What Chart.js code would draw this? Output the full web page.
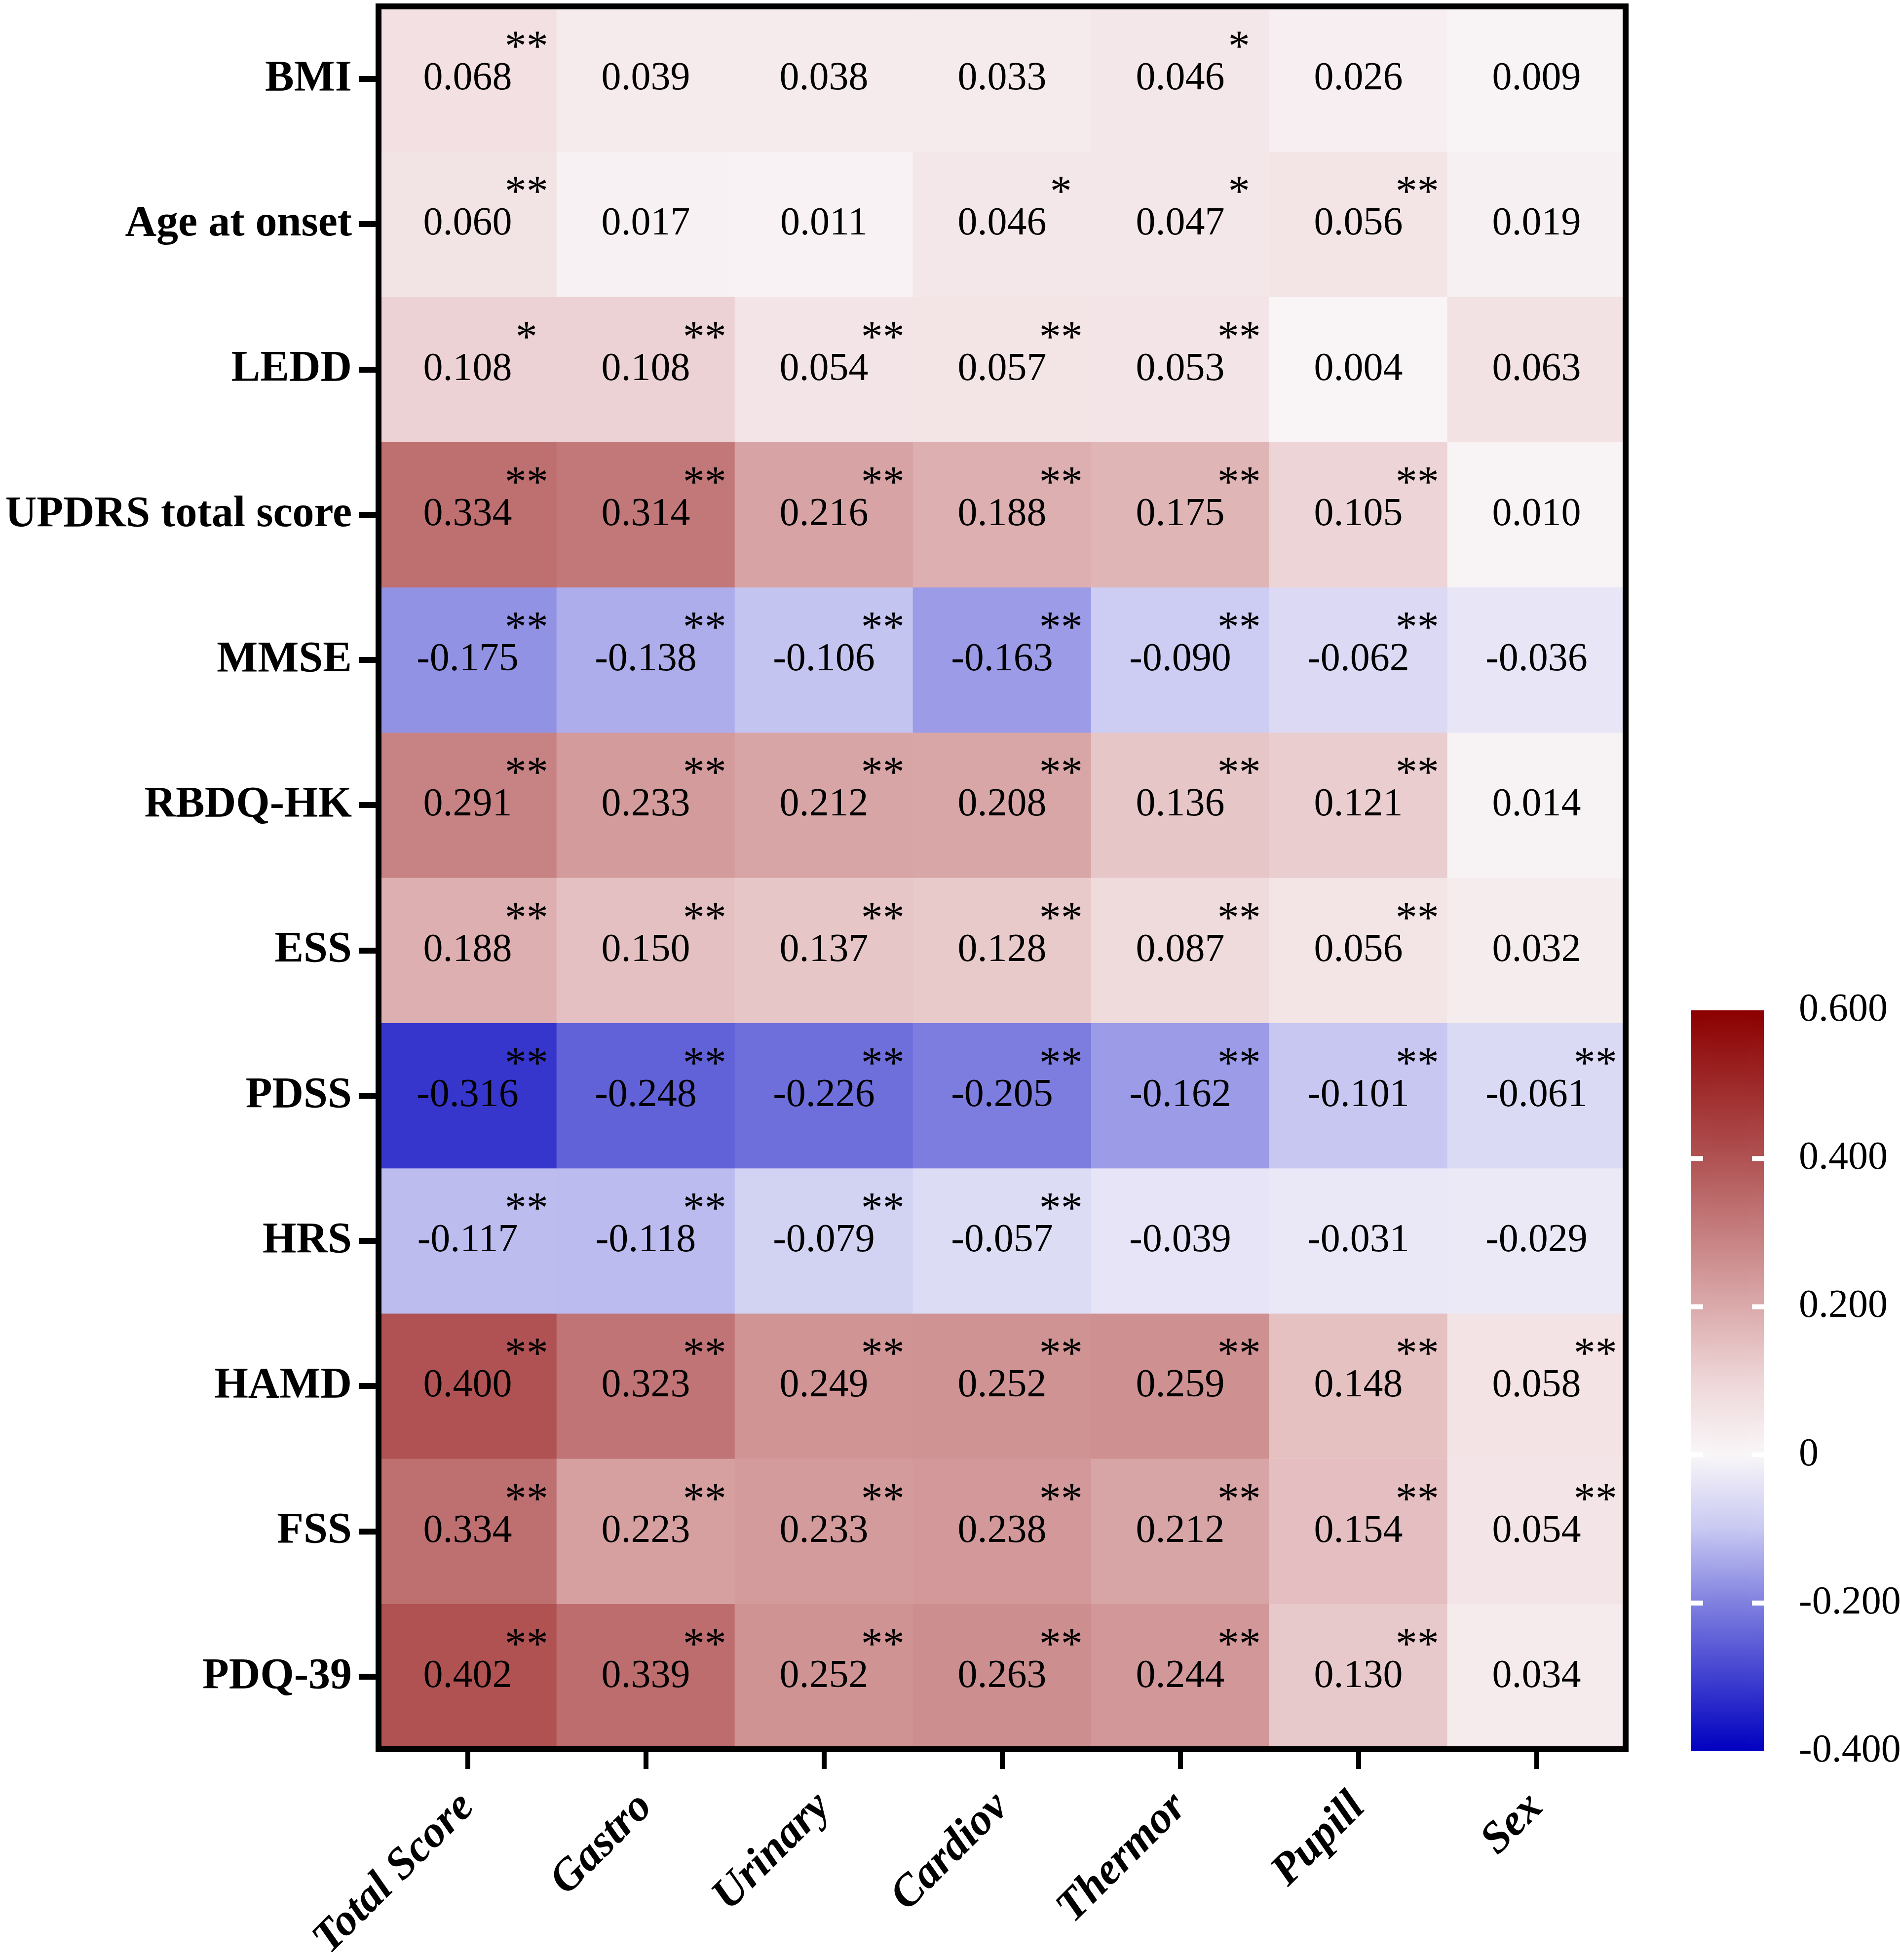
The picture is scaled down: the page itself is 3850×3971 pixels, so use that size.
<!DOCTYPE html>
<html>
<head>
<meta charset="utf-8">
<title>Correlation heatmap</title>
<script src="https://cdn.jsdelivr.net/npm/chart.js@4.4.1/dist/chart.umd.min.js"></script>
<style>
  html, body { margin: 0; padding: 0; background: #fff; }
  #wrap { position: relative; width: 3850px; height: 3971px; }
  #heat { position: absolute; left: 0; top: 0; }
  #bar { position: absolute; left: 3300px; top: 1900px; }
</style>
</head>
<body>
<div id="wrap">
  <canvas id="heat" width="3850" height="3971"></canvas>
  <canvas id="bar" width="550" height="1800"></canvas>
</div>
<script>
// rows (top to bottom) and columns
const rows = ['BMI', 'Age at onset', 'LEDD', 'UPDRS total score', 'MMSE', 'RBDQ-HK',
  'ESS', 'PDSS', 'HRS', 'HAMD', 'FSS', 'PDQ-39'];
const columns = ['Total Score', 'Gastro', 'Urinary', 'Cardiov', 'Thermor', 'Pupill', 'Sex'];

// correlation coefficients, one array per row
const bmi = [0.068, 0.039, 0.038, 0.033, 0.046, 0.026, 0.009];
const ageAtOnset = [0.060, 0.017, 0.011, 0.046, 0.047, 0.056, 0.019];
const ledd = [0.108, 0.108, 0.054, 0.057, 0.053, 0.004, 0.063];
const updrs = [0.334, 0.314, 0.216, 0.188, 0.175, 0.105, 0.010];
const mmse = [-0.175, -0.138, -0.106, -0.163, -0.090, -0.062, -0.036];
const rbdq = [0.291, 0.233, 0.212, 0.208, 0.136, 0.121, 0.014];
const ess = [0.188, 0.150, 0.137, 0.128, 0.087, 0.056, 0.032];
const pdss = [-0.316, -0.248, -0.226, -0.205, -0.162, -0.101, -0.061];
const hrs = [-0.117, -0.118, -0.079, -0.057, -0.039, -0.031, -0.029];
const hamd = [0.400, 0.323, 0.249, 0.252, 0.259, 0.148, 0.058];
const fss = [0.334, 0.223, 0.233, 0.238, 0.212, 0.154, 0.054];
const pdq39 = [0.402, 0.339, 0.252, 0.263, 0.244, 0.130, 0.034];
const values = [bmi, ageAtOnset, ledd, updrs, mmse, rbdq, ess, pdss, hrs, hamd, fss, pdq39];

// significance marks
const stars = [
  ['**', '', '', '', '*', '', ''],
  ['**', '', '', '*', '*', '**', ''],
  ['*', '**', '**', '**', '**', '', ''],
  ['**', '**', '**', '**', '**', '**', ''],
  ['**', '**', '**', '**', '**', '**', ''],
  ['**', '**', '**', '**', '**', '**', ''],
  ['**', '**', '**', '**', '**', '**', ''],
  ['**', '**', '**', '**', '**', '**', '**'],
  ['**', '**', '**', '**', '', '', ''],
  ['**', '**', '**', '**', '**', '**', '**'],
  ['**', '**', '**', '**', '**', '**', '**'],
  ['**', '**', '**', '**', '**', '**', '']
];

// colour bar
const colorTicks = [-0.4, -0.2, 0, 0.2, 0.4, 0.6];
const stopValues = [-0.4, -0.2, -0.1, 0, 0.1, 0.2, 0.4, 0.6];
const stopColors = [[0, 0, 192], [128, 128, 224], [200, 200, 242], [249, 246, 248],
  [238, 214, 216], [219, 170, 171], [176, 82, 83], [140, 0, 0]];

const FONT = "'Liberation Serif', 'Times New Roman', serif";
Chart.defaults.color = '#000';
Chart.defaults.font.family = FONT;

function colorFor(v) {
  if (v <= stopValues[0]) return rgb(stopColors[0]);
  for (let i = 1; i < stopValues.length; i++) {
    if (v <= stopValues[i]) {
      const t = (v - stopValues[i - 1]) / (stopValues[i] - stopValues[i - 1]);
      const a = stopColors[i - 1], b = stopColors[i];
      return rgb(a.map((x, k) => x + (b[k] - x) * t));
    }
  }
  return rgb(stopColors[stopColors.length - 1]);
}

function rgb(c) {
  return `rgb(${Math.round(c[0])}, ${Math.round(c[1])}, ${Math.round(c[2])})`;
}

// numbers and stars in the cells
const cellText = {
  id: 'cellText',
  afterDatasetsDraw(chart) {
    const { ctx, scales: { x, y } } = chart;
    const cw = x.getPixelForValue(1) - x.getPixelForValue(0);
    const ch = Math.abs(y.getPixelForValue(1) - y.getPixelForValue(0));
    ctx.save();
    ctx.fillStyle = '#000';
    ctx.textAlign = 'center';
    values.forEach((row, r) => {
      row.forEach((v, c) => {
        const cx = x.getPixelForValue(c);
        const cy = y.getPixelForValue(r + 0.5);
        ctx.font = `80px ${FONT}`;
        ctx.textBaseline = 'middle';
        ctx.fillText(v.toFixed(3), cx, cy);
        if (stars[r][c]) {
          ctx.font = `88px ${FONT}`;
          ctx.textBaseline = 'alphabetic';
          ctx.fillText(stars[r][c], cx + cw * 0.33, cy - ch * 0.275 + 43);
        }
      });
    });
    ctx.restore();
  }
};

// black frame round the plot
const frame = {
  id: 'frame',
  afterDatasetsDraw(chart) {
    const { ctx, chartArea: a } = chart;
    ctx.save();
    ctx.strokeStyle = '#000';
    ctx.lineWidth = 12;
    ctx.strokeRect(a.left, a.top, a.right - a.left, a.bottom - a.top);
    ctx.restore();
  }
};

new Chart(document.getElementById('heat'), {
  type: 'bar',
  data: {
    labels: columns,
    datasets: rows.map((name, r) => ({
      label: name,
      data: columns.map(() => 1),
      backgroundColor: values[r].map(colorFor),
      borderWidth: 0,
      barPercentage: 1,
      categoryPercentage: 1
    }))
  },
  options: {
    responsive: false,
    animation: false,
    devicePixelRatio: 1,
    layout: { padding: { top: 13, right: 556, left: 0, bottom: 0 } },
    plugins: { legend: { display: false }, tooltip: { enabled: false } },
    scales: {
      x: {
        stacked: true,
        border: { display: false },
        grid: { display: true, drawOnChartArea: false, offset: false, tickLength: 40, lineWidth: 10, color: '#000' },
        ticks: {
          autoSkip: false, maxRotation: 45, minRotation: 45, padding: 26,
          font: { size: 90, weight: 'bold', style: 'italic' }
        },
        afterFit: s => {
          s.height = 3971 - 3544;
          s.paddingLeft = 0;
          s.paddingRight = 0;
        }
      },
      y: {
        stacked: true,
        reverse: true,
        min: 0,
        max: rows.length,
        border: { display: false },
        grid: { display: true, drawOnChartArea: false, tickLength: 40, lineWidth: 12, color: '#000' },
        afterBuildTicks: s => { s.ticks = rows.map((_, i) => ({ value: i + 0.5 })); },
        ticks: {
          padding: 14,
          font: { size: 88, weight: 'bold' },
          callback: (v, i) => rows[i]
        },
        afterFit: s => {
          s.width = 767;
          s.paddingTop = 0;
          s.paddingBottom = 0;
        }
      }
    }
  },
  plugins: [cellText, frame]
});

// colour bar
const barTicks = {
  id: 'barTicks',
  afterDatasetsDraw(chart) {
    const { ctx, chartArea: a, scales: { y } } = chart;
    ctx.save();
    ctx.strokeStyle = '#fff';
    ctx.lineWidth = 10;
    colorTicks.slice(1, -1).forEach(v => {
      const py = y.getPixelForValue(v);
      ctx.beginPath();
      ctx.moveTo(a.left, py); ctx.lineTo(a.left + 24, py);
      ctx.moveTo(a.right - 24, py); ctx.lineTo(a.right, py);
      ctx.stroke();
    });
    ctx.restore();
  }
};

new Chart(document.getElementById('bar'), {
  type: 'bar',
  data: {
    labels: [''],
    datasets: [{
      data: [[colorTicks[0], colorTicks[colorTicks.length - 1]]],
      borderWidth: 0,
      barPercentage: 1,
      categoryPercentage: 1,
      backgroundColor(context) {
        const chart = context.chart;
        if (!chart.chartArea) return '#fff';
        const y = chart.scales.y;
        const lo = stopValues[0], hi = stopValues[stopValues.length - 1];
        const g = chart.ctx.createLinearGradient(0, y.getPixelForValue(lo), 0, y.getPixelForValue(hi));
        stopValues.forEach((v, i) => g.addColorStop((v - lo) / (hi - lo), rgb(stopColors[i])));
        return g;
      }
    }]
  },
  options: {
    responsive: false,
    animation: false,
    devicePixelRatio: 1,
    layout: { padding: { top: 147, left: 127, right: 0, bottom: 152 } },
    plugins: { legend: { display: false }, tooltip: { enabled: false } },
    scales: {
      x: { display: false },
      y: {
        position: 'right',
        min: colorTicks[0],
        max: colorTicks[colorTicks.length - 1],
        border: { display: false },
        grid: { display: false },
        afterBuildTicks: s => { s.ticks = colorTicks.map(v => ({ value: v })); },
        ticks: {
          padding: 63,
          font: { size: 80 },
          callback: v => (v === 0 ? '0' : v.toFixed(3))
        },
        afterFit: s => {
          s.width = 276;
          s.paddingTop = 0;
          s.paddingBottom = 0;
        }
      }
    }
  },
  plugins: [barTicks]
});
</script>
</body>
</html>
